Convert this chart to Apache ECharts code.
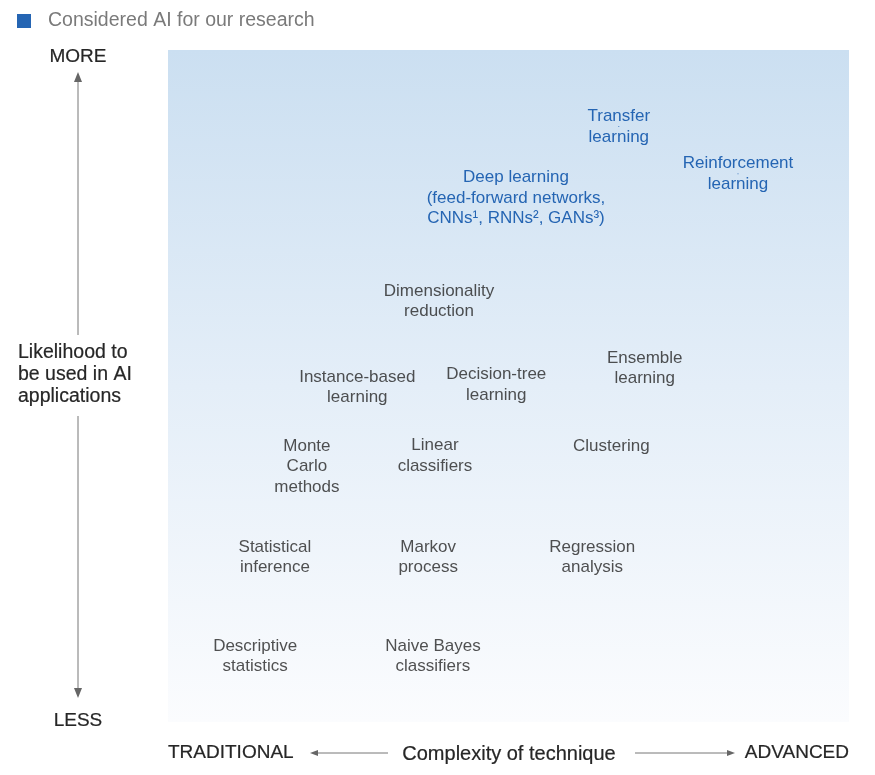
<!DOCTYPE html>
<html><head><meta charset="utf-8">
<script src="https://cdn.jsdelivr.net/npm/echarts@6/dist/echarts.min.js"></script>
<style>html,body{margin:0;padding:0;background:#fff}#c{width:875px;height:775px}</style>
</head><body><div id="c"></div>
<script>
// Techniques considered AI (blue)
const aiNames = ['Transfer\nlearning', 'Reinforcement\nlearning', 'Deep learning\n(feed-forward networks,\nCNNs¹, RNNs², GANs³)'];
const aiX = [66.2, 83.7, 51.1];
const aiY = [88.6, 81.6, 78.0];
// Other techniques (grey)
const otherNames = ['Dimensionality\nreduction', 'Ensemble\nlearning', 'Instance-based\nlearning', 'Decision-tree\nlearning',
  'Monte\nCarlo\nmethods', 'Linear\nclassifiers', 'Clustering', 'Statistical\ninference', 'Markov\nprocess',
  'Regression\nanalysis', 'Descriptive\nstatistics', 'Naive Bayes\nclassifiers'];
const otherX = [39.8, 70.0, 27.8, 48.2, 20.4, 39.2, 65.1, 15.7, 38.2, 62.3, 12.8, 38.9];
const otherY = [62.6, 52.6, 49.8, 50.2, 38.0, 39.6, 41.0, 24.5, 24.5, 24.5, 9.8, 9.8];
const legendName = 'Considered AI for our research';
const axisTexts = {more: 'MORE', less: 'LESS', yTitle: 'Likelihood to\nbe used in AI\napplications',
  left: 'TRADITIONAL', right: 'ADVANCED', xTitle: 'Complexity of technique'};

const FONT = '"Liberation Sans", Arial, sans-serif';
const BLUE = '#2565b3';
const DARK = '#262626';

const chart = echarts.init(document.getElementById('c'));
const mk = (names, xs, ys) => names.map((n, i) => ({value: [xs[i], ys[i]], name: n}));
const lbl = (color) => ({show: true, position: 'inside', formatter: '{b}', color: color,
  fontFamily: FONT, fontSize: 17, lineHeight: 20.5, align: 'center', verticalAlign: 'middle'});

const arrowLine = (x1, y1, x2, y2) => ({type: 'line', silent: true,
  shape: {x1, y1, x2, y2}, style: {stroke: '#777', lineWidth: 1}});
const head = (pts) => ({type: 'polygon', silent: true, shape: {points: pts}, style: {fill: '#666'}});
const txt = (x, y, text, align, size, color) => ({type: 'text', silent: true, x, y,
  style: {text, fill: color || DARK, stroke: color || DARK, lineWidth: 0.2,
    font: (size || 17) + 'px ' + FONT, align: align || 'left', verticalAlign: 'middle', lineHeight: 22}});

chart.setOption({
  animation: false,
  grid: {left: 168, right: 26, top: 50, bottom: 53, show: true, borderWidth: 0,
    backgroundColor: new echarts.graphic.LinearGradient(0, 0, 0, 1, [
      {offset: 0, color: '#cbdff1'}, {offset: 0.5, color: '#e4eef8'}, {offset: 1, color: '#fbfcfe'}])},
  legend: {data: [legendName], left: 12, top: 6, icon: 'rect', itemWidth: 14, itemHeight: 14, itemGap: 10,
    selectedMode: false, textStyle: {color: '#7a7a7a', fontSize: 19.5, fontFamily: FONT, padding: [0, 0, 0, 12]}},
  xAxis: {type: 'value', min: 0, max: 100, show: false},
  yAxis: {type: 'value', min: 0, max: 100, show: false},
  series: [
    {name: legendName, type: 'scatter', symbolSize: 1, itemStyle: {color: BLUE, opacity: 1},
      data: mk(aiNames, aiX, aiY), label: lbl(BLUE)},
    {name: 'Other', type: 'scatter', symbolSize: 1, itemStyle: {color: 'rgba(0,0,0,0)'},
      data: mk(otherNames, otherX, otherY), label: lbl(DARK)}
  ],
  graphic: [
    txt(78, 57, axisTexts.more, 'center', 19),
    txt(78, 721, axisTexts.less, 'center', 19),
    txt(18, 375, axisTexts.yTitle, 'left', 19.5),
    arrowLine(78, 80, 78, 335),
    arrowLine(78, 416, 78, 690),
    head([[74, 82], [82, 82], [78, 72]]),
    head([[74, 688], [82, 688], [78, 698]]),
    txt(168, 753, axisTexts.left, 'left', 19),
    txt(849, 753, axisTexts.right, 'right', 19),
    txt(509, 754, axisTexts.xTitle, 'center', 20),
    arrowLine(316, 753, 388, 753),
    head([[318, 750], [318, 756], [310, 753]]),
    arrowLine(635, 753, 728, 753),
    head([[727, 750], [727, 756], [735, 753]])
  ]
});
</script></body></html>
